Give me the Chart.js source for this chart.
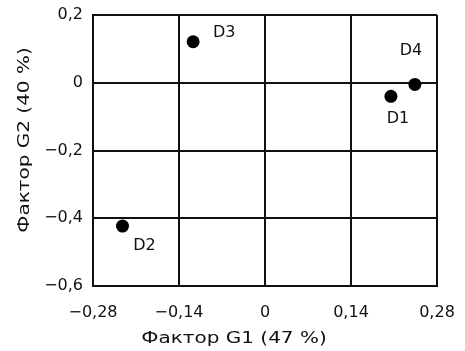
<!DOCTYPE html>
<html lang="ru">
<head>
<meta charset="utf-8">
<title>Фактор G1 / Фактор G2</title>
<script src="https://cdn.jsdelivr.net/npm/chart.js@4.4.1/dist/chart.umd.min.js"></script>
<style>
    html, body { margin: 0; padding: 0; background: #fff; }
    #wrap { width: 465px; height: 351px; }
</style>
</head>
<body>
<div id="wrap"><canvas id="factorChart" width="465" height="351"></canvas></div>
<script>
// Данные
const pointNames = ['D1', 'D2', 'D3', 'D4'];
const factorG1 = [0.205, -0.232, -0.117, 0.244];
const factorG2 = [-0.040, -0.423, 0.121, -0.005];

const xTicks = [-0.28, -0.14, 0, 0.14, 0.28];
const xTickLabels = ['−0,28', '−0,14', '0', '0,14', '0,28'];
const yTicks = [-0.6, -0.4, -0.2, 0, 0.2];
const yTickLabels = ['−0,6', '−0,4', '−0,2', '0', '0,2'];

const xTitle = 'Фактор G1 (47 %)';
const yTitle = 'Фактор G2 (40 %)';

// Смещения подписей точек, px
const labelShift = { D1: [7, 23], D2: [22, 20], D3: [31, -9], D4: [-4, -34] };

const ink = '#111';
const fontFamily = '"DejaVu Sans", "Liberation Sans", sans-serif';

// Подписи точек и названия осей
const annotations = {
    id: 'annotations',
    afterDatasetsDraw(chart) {
        const ctx = chart.ctx;
        const area = chart.chartArea;
        const meta = chart.getDatasetMeta(0);
        ctx.save();
        ctx.fillStyle = ink;
        ctx.font = '16px ' + fontFamily;
        ctx.textAlign = 'center';
        ctx.textBaseline = 'middle';
        meta.data.forEach((pt, i) => {
            const s = labelShift[pointNames[i]];
            ctx.fillText(pointNames[i], pt.x + s[0], pt.y + s[1]);
        });

        // ось X
        ctx.save();
        ctx.translate(area.left + 141, area.bottom + 53);
        ctx.scale(1.25, 1);
        ctx.fillText(xTitle, 0, 0);
        ctx.restore();

        // ось Y
        ctx.save();
        ctx.translate(area.left - 68, area.top + 125);
        ctx.rotate(-Math.PI / 2);
        ctx.scale(1.25, 1);
        ctx.fillText(yTitle, 0, 0);
        ctx.restore();

        ctx.restore();
    }
};

document.addEventListener('DOMContentLoaded', function() {
    const ctx = document.getElementById('factorChart').getContext('2d');
    new Chart(ctx, {
        type: 'scatter',
        data: {
            datasets: [{
                data: factorG1.map((x, i) => ({ x: x, y: factorG2[i] })),
                backgroundColor: '#000',
                borderWidth: 0,
                pointRadius: 6.5,
                pointHoverRadius: 6.5
            }]
        },
        options: {
            responsive: false,
            animation: false,
            layout: {
                padding: { top: 15, right: 28, left: 0, bottom: 0 }
            },
            plugins: {
                legend: { display: false },
                tooltip: { enabled: false }
            },
            scales: {
                x: {
                    type: 'linear',
                    min: -0.28,
                    max: 0.28,
                    afterBuildTicks: s => { s.ticks = xTicks.map(v => ({ value: v })); },
                    afterFit: s => {
                        s.height = 65;
                        s.paddingLeft = 0;
                        s.paddingRight = 0;
                    },
                    grid: { color: ink, lineWidth: 2, drawTicks: false },
                    border: { color: ink, width: 2 },
                    ticks: {
                        padding: 17,
                        autoSkip: false,
                        maxRotation: 0,
                        color: ink,
                        font: { family: fontFamily, size: 16 },
                        callback: (v, i) => xTickLabels[i]
                    }
                },
                y: {
                    type: 'linear',
                    min: -0.6,
                    max: 0.2,
                    afterBuildTicks: s => { s.ticks = yTicks.map(v => ({ value: v })); },
                    afterFit: s => {
                        s.width = 93;
                        s.paddingTop = 0;
                        s.paddingBottom = 0;
                    },
                    grid: { color: ink, lineWidth: 2, drawTicks: false },
                    border: { color: ink, width: 2 },
                    ticks: {
                        padding: 10,
                        autoSkip: false,
                        color: ink,
                        font: { family: fontFamily, size: 16 },
                        callback: (v, i) => yTickLabels[i]
                    }
                }
            }
        },
        plugins: [annotations]
    });
});
</script>
</body>
</html>
